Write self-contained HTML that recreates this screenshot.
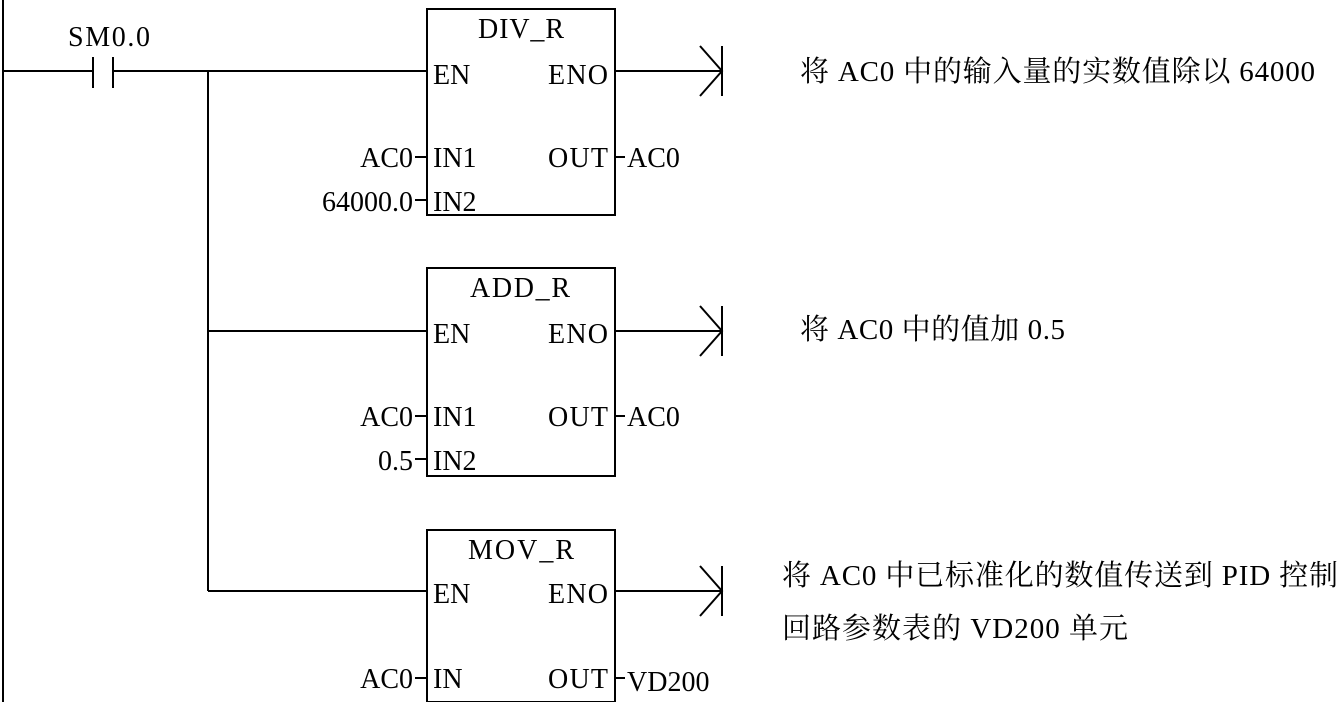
<!DOCTYPE html>
<html><head><meta charset="utf-8"><style>
html,body{margin:0;padding:0;background:#fff;}
svg text{font-family:"Liberation Serif","Noto Serif CJK SC",serif;font-size:28px;fill:#000;}
svg text.c{font-size:29px;}
</style></head><body>
<svg width="1340" height="702" viewBox="0 0 1340 702" xmlns="http://www.w3.org/2000/svg">
<g stroke="#000" stroke-width="2" fill="none">
<line x1="3" y1="0" x2="3" y2="702"/>
<line x1="3" y1="71" x2="93" y2="71"/>
<line x1="93" y1="57" x2="93" y2="88"/>
<line x1="113" y1="57" x2="113" y2="88"/>
<line x1="113" y1="71" x2="427" y2="71"/>
<line x1="208" y1="71" x2="208" y2="591"/>
<line x1="208" y1="331" x2="427" y2="331"/>
<line x1="208" y1="591" x2="427" y2="591"/>
<rect x="427" y="9" width="188" height="206"/>
<rect x="427" y="268" width="188" height="208"/>
<rect x="427" y="530" width="188" height="172"/>
<line x1="615" y1="71" x2="722" y2="71"/>
<polyline points="700,46 722,71 700,96"/><line x1="722" y1="46" x2="722" y2="96"/>
<line x1="615" y1="331" x2="722" y2="331"/>
<polyline points="700,306 722,331 700,356"/><line x1="722" y1="306" x2="722" y2="356"/>
<line x1="615" y1="591" x2="722" y2="591"/>
<polyline points="700,566 722,591 700,616"/><line x1="722" y1="566" x2="722" y2="616"/>
<line x1="415" y1="157" x2="427" y2="157"/>
<line x1="415" y1="200" x2="427" y2="200"/>
<line x1="615" y1="157" x2="625" y2="157"/>
<line x1="415" y1="416" x2="427" y2="416"/>
<line x1="415" y1="459" x2="427" y2="459"/>
<line x1="615" y1="416" x2="625" y2="416"/>
<line x1="415" y1="678" x2="427" y2="678"/>
<line x1="615" y1="678" x2="625" y2="678"/>
</g>
<text x="68" y="46" textLength="82">SM0.0</text>
<text x="478" y="38" textLength="86">DIV_R</text>
<text x="433" y="84">EN</text><text x="548" y="84" textLength="60">ENO</text>
<text x="433" y="167">IN1</text><text x="548" y="167" textLength="60">OUT</text>
<text x="433" y="211">IN2</text>
<text x="413" y="167" text-anchor="end">AC0</text>
<text x="413" y="211" text-anchor="end">64000.0</text>
<text x="627" y="167">AC0</text>
<text x="470" y="297" textLength="100">ADD_R</text>
<text x="433" y="343">EN</text><text x="548" y="343" textLength="60">ENO</text>
<text x="433" y="426">IN1</text><text x="548" y="426" textLength="60">OUT</text>
<text x="433" y="470">IN2</text>
<text x="413" y="426" text-anchor="end">AC0</text>
<text x="413" y="470" text-anchor="end">0.5</text>
<text x="627" y="426">AC0</text>
<text x="468" y="559" textLength="106">MOV_R</text>
<text x="433" y="603">EN</text><text x="548" y="603" textLength="60">ENO</text>
<text x="433" y="688">IN</text><text x="548" y="688" textLength="60">OUT</text>
<text x="413" y="688" text-anchor="end">AC0</text>
<text x="627" y="691">VD200</text>
<text class="c" x="800" y="81" textLength="515">将 AC0 中的输入量的实数值除以 64000</text>
<text class="c" x="800" y="339" textLength="265">将 AC0 中的值加 0.5</text>
<text class="c" x="782" y="585" textLength="556">将 AC0 中已标准化的数值传送到 PID 控制</text>
<text class="c" x="782" y="638" textLength="346">回路参数表的 VD200 单元</text>
</svg>
</body></html>
